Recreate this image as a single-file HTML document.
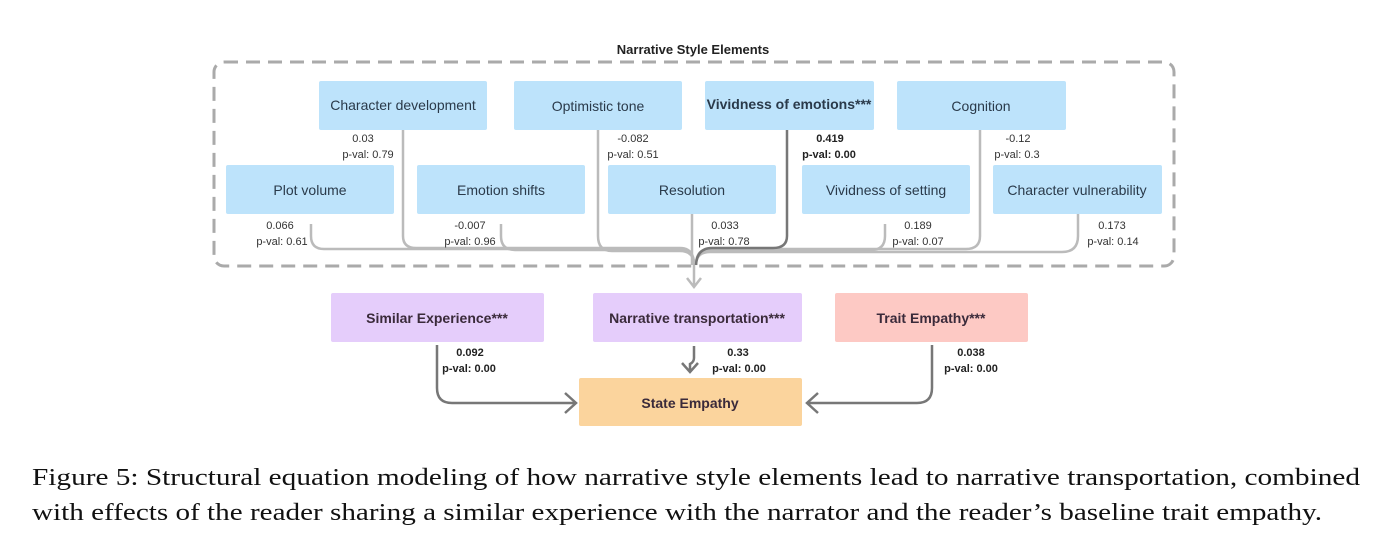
<!DOCTYPE html>
<html><head><meta charset="utf-8"><style>
body{margin:0;background:#fff}
svg{display:block}
.b{font-family:"Liberation Sans",sans-serif;font-size:14px;fill:#2a3a4a}
.s{font-family:"Liberation Sans",sans-serif;font-size:11px;fill:#333}
.sb{font-family:"Liberation Sans",sans-serif;font-size:11px;fill:#222;font-weight:bold}
.bb{font-family:"Liberation Sans",sans-serif;font-size:14px;fill:#3a2a3a;font-weight:bold}
.cap{font-family:"Liberation Serif",serif;font-size:24px;fill:#111}
</style></head><body>
<svg width="1385" height="538" viewBox="0 0 1385 538" xmlns="http://www.w3.org/2000/svg">
<text x="693" y="54" text-anchor="middle" font-family="Liberation Sans,sans-serif" font-size="13" font-weight="bold" fill="#222">Narrative Style Elements</text>
<rect x="214" y="62" width="960" height="204" rx="10" fill="none" stroke="#aaa" stroke-width="3" stroke-dasharray="14,8"/>
<g fill="#bde3fb">
<rect x="319" y="81" width="168" height="49" rx="2"/><rect x="514" y="81" width="168" height="49" rx="2"/>
<rect x="705" y="81" width="169" height="49" rx="2"/><rect x="897" y="81" width="169" height="49" rx="2"/>
<rect x="226" y="165" width="168" height="49" rx="2"/><rect x="417" y="165" width="168" height="49" rx="2"/>
<rect x="608" y="165" width="168" height="49" rx="2"/><rect x="802" y="165" width="168" height="49" rx="2"/>
<rect x="993" y="165" width="169" height="49" rx="2"/>
</g>
<text class="b" x="403" y="110" text-anchor="middle" font-size="13">Character development</text>
<text class="b" x="598" y="111" text-anchor="middle" font-size="15">Optimistic tone</text>
<text class="b" x="789" y="109" text-anchor="middle" font-size="11.5" font-weight="bold">Vividness of emotions***</text>
<text class="b" x="981" y="111" text-anchor="middle" font-size="15">Cognition</text>
<text class="b" x="310" y="195" text-anchor="middle" font-size="15">Plot volume</text>
<text class="b" x="501" y="195" text-anchor="middle" font-size="15">Emotion shifts</text>
<text class="b" x="692" y="195" text-anchor="middle" font-size="15">Resolution</text>
<text class="b" x="886" y="195" text-anchor="middle" font-size="15">Vividness of setting</text>
<text class="b" x="1077" y="195" text-anchor="middle" font-size="13">Character vulnerability</text>
<g fill="none" stroke="#bbb" stroke-width="2.5">
<path d="M311 224 V236 Q311 249 324 249 H680 Q694 249 694 265"/>
<path d="M403 130 V236 Q403 248 416 248 H680 Q694 248 694 265"/>
<path d="M501 224 V236 Q501 250 515 250 H680 Q694 250 694 265"/>
<path d="M598 130 V236 Q598 251 612 251 H680 Q694 251 694 265"/>
<path d="M692 214 V265"/>
<path d="M885 224 V236 Q885 250 871 250 H710 Q696 250 696 265"/>
<path d="M980 130 V236 Q980 249 966 249 H710 Q696 249 696 265"/>
<path d="M1078 214 V236 Q1078 252 1062 252 H710 Q696 252 696 265"/>
<path d="M694 262 V286 M687 278 L694 287 L701 278"/>
</g>
<path d="M787 130 V236 Q787 248 773 248 H712 Q697 248 696 265" fill="none" stroke="#777" stroke-width="2.5"/>
<text class="s" x="363" y="142" text-anchor="middle">0.03</text><text class="s" x="368" y="158" text-anchor="middle">p-val: 0.79</text>
<text class="s" x="633" y="142" text-anchor="middle">-0.082</text><text class="s" x="633" y="158" text-anchor="middle">p-val: 0.51</text>
<text class="sb" x="830" y="142" text-anchor="middle">0.419</text><text class="sb" x="829" y="158" text-anchor="middle">p-val: 0.00</text>
<text class="s" x="1018" y="142" text-anchor="middle">-0.12</text><text class="s" x="1017" y="158" text-anchor="middle">p-val: 0.3</text>
<text class="s" x="280" y="229" text-anchor="middle">0.066</text><text class="s" x="282" y="245" text-anchor="middle">p-val: 0.61</text>
<text class="s" x="470" y="229" text-anchor="middle">-0.007</text><text class="s" x="470" y="245" text-anchor="middle">p-val: 0.96</text>
<text class="s" x="725" y="229" text-anchor="middle">0.033</text><text class="s" x="724" y="245" text-anchor="middle">p-val: 0.78</text>
<text class="s" x="918" y="229" text-anchor="middle">0.189</text><text class="s" x="918" y="245" text-anchor="middle">p-val: 0.07</text>
<text class="s" x="1112" y="229" text-anchor="middle">0.173</text><text class="s" x="1113" y="245" text-anchor="middle">p-val: 0.14</text>
<rect x="331" y="293" width="213" height="49" rx="2" fill="#e5cdfb"/>
<rect x="593" y="293" width="209" height="49" rx="2" fill="#e5cdfb"/>
<rect x="835" y="293" width="193" height="49" rx="2" fill="#fdc9c4"/>
<rect x="579" y="378" width="223" height="48" rx="2" fill="#fbd49d"/>
<text class="bb" x="437" y="323" text-anchor="middle">Similar Experience***</text>
<text class="bb" x="697" y="323" text-anchor="middle">Narrative transportation***</text>
<text class="bb" x="931" y="323" text-anchor="middle">Trait Empathy***</text>
<text class="bb" x="690" y="408" text-anchor="middle">State Empathy</text>
<g fill="none" stroke="#777" stroke-width="2.5">
<path d="M437 345 V388 Q437 403 452 403 H575 M565 393 L576 403 L565 413"/>
<path d="M694 346 V358 Q694 362 690 364 V372 M682 363 L690 372 L698 363"/>
<path d="M932 345 V388 Q932 403 917 403 H808 M818 393 L807 403 L818 413"/>
</g>
<text class="sb" x="470" y="356" text-anchor="middle">0.092</text><text class="sb" x="469" y="372" text-anchor="middle">p-val: 0.00</text>
<text class="sb" x="738" y="356" text-anchor="middle">0.33</text><text class="sb" x="739" y="372" text-anchor="middle">p-val: 0.00</text>
<text class="sb" x="971" y="356" text-anchor="middle">0.038</text><text class="sb" x="971" y="372" text-anchor="middle">p-val: 0.00</text>
<text class="cap" x="32" y="485" textLength="1328" lengthAdjust="spacingAndGlyphs">Figure 5: Structural equation modeling of how narrative style elements lead to narrative transportation, combined</text>
<text class="cap" x="32" y="520" textLength="1290" lengthAdjust="spacingAndGlyphs">with effects of the reader sharing a similar experience with the narrator and the reader’s baseline trait empathy.</text>
</svg>
</body></html>
